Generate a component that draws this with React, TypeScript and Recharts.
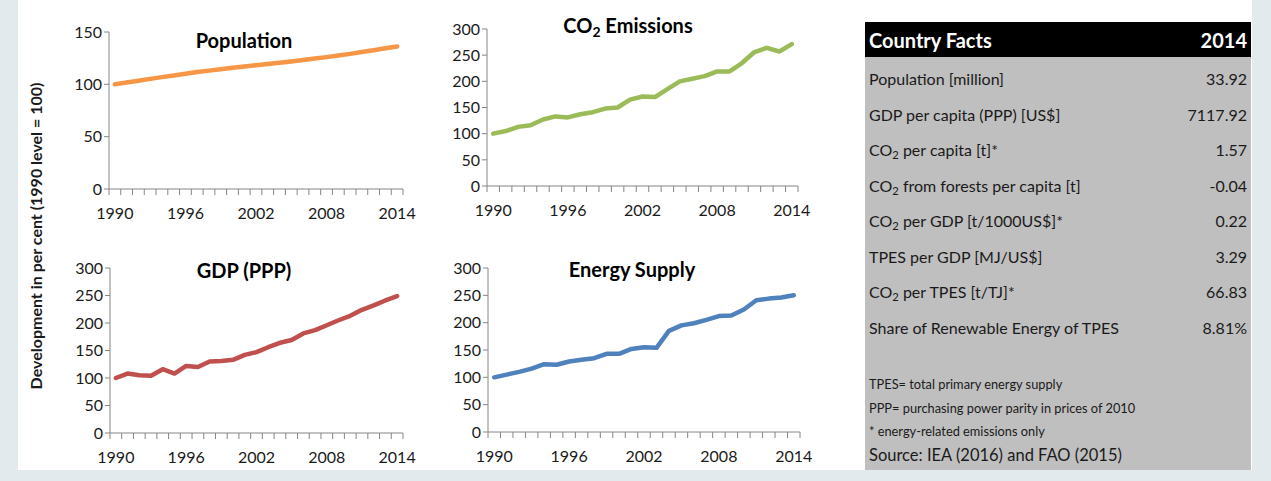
import React from 'react';
import { LineChart, Line, XAxis, YAxis } from 'recharts';

const years = [
  1990, 1991, 1992, 1993, 1994, 1995, 1996, 1997, 1998, 1999, 2000, 2001, 2002,
  2003, 2004, 2005, 2006, 2007, 2008, 2009, 2010, 2011, 2012, 2013, 2014,
];
const yearLabels = [1990, 1996, 2002, 2008, 2014];

const population = [
  100, 101.8, 103.5, 105.2, 106.9, 108.5, 110.1, 111.7, 113.1, 114.5, 115.8,
  117.0, 118.2, 119.4, 120.6, 121.9, 123.2, 124.6, 126.0, 127.5, 129.1, 130.8,
  132.6, 134.4, 136.2,
];
const co2Emissions = [
  100, 105, 113, 116, 127, 133, 131, 137, 141, 148, 150, 165, 171, 170, 185,
  200, 205, 210, 219, 219, 235, 256, 264, 257, 271,
];
const gdpPpp = [
  100, 108, 105, 104, 116, 108, 122, 120, 130, 131, 133, 142, 147, 156, 164,
  169, 181, 187, 196, 205, 213, 224, 232, 241, 249,
];
const energySupply = [
  100, 105, 110, 116, 124, 123, 129, 132, 135, 143, 143, 152, 155, 154, 185,
  195, 199, 205, 212, 213, 224, 241, 244, 246, 250,
];

const popTicks = [0, 50, 100, 150];
const bigTicks = [0, 50, 100, 150, 200, 250, 300];

const factLabels = [
  'Population [million]',
  'GDP per capita (PPP) [US$]',
  'CO2 per capita [t]*',
  'CO2 from forests per capita [t]',
  'CO2 per GDP [t/1000US$]*',
  'TPES per GDP [MJ/US$]',
  'CO2 per TPES [t/TJ]*',
  'Share of Renewable Energy of TPES',
];
const factValues = ['33.92', '7117.92', '1.57', '-0.04', '0.22', '3.29', '66.83', '8.81%'];
const notes = [
  'TPES= total primary energy supply',
  'PPP= purchasing power parity in prices of 2010',
  '* energy-related emissions only',
];
const source = 'Source: IEA (2016) and FAO (2015)';

const FONT = 'Lato, "Open Sans", sans-serif';
const AXIS = '#868686';
const TEXT = '#1a1a1a';

function withCO2(label: string) {
  const parts = label.split('CO2');
  return parts.map((p, i) => (
    <React.Fragment key={i}>
      {i > 0 && (
        <>
          CO<sub style={{ fontSize: '0.7em', verticalAlign: '-0.25em' }}>2</sub>
        </>
      )}
      {p}
    </React.Fragment>
  ));
}

function YearTick({ x, y, payload, index, bw }: any) {
  const axisY = y - 6;
  const left = x - bw / 2;
  return (
    <g>
      <line x1={left} x2={left} y1={axisY} y2={axisY + 6} stroke={AXIS} />
      {index === years.length - 1 && (
        <line x1={x + bw / 2} x2={x + bw / 2} y1={axisY} y2={axisY + 6} stroke={AXIS} />
      )}
      {yearLabels.includes(Number(payload.value)) && (
        <text x={x} y={axisY + 30} textAnchor='middle' fill={TEXT} fontSize={16} fontFamily={FONT}>
          {payload.value}
        </text>
      )}
    </g>
  );
}

interface Box {
  x0: number;
  x1: number;
  y0: number;
  y1: number;
}

function Panel({
  box,
  values,
  color,
  domain,
  ticks,
}: {
  box: Box;
  values: number[];
  color: string;
  domain: number[];
  ticks: number[];
}) {
  const YW = 45;
  const XH = 34;
  const left = box.x0 - YW - 4;
  const top = box.y0 - 12;
  const width = box.x1 - left + 16;
  const height = box.y1 - top + XH + 4;
  const bw = (box.x1 - box.x0) / years.length;
  const rows = years.map((year, i) => ({ year, v: values[i] }));

  return (
    <div style={{ position: 'absolute', left, top }}>
      <LineChart
        width={width}
        height={height}
        data={rows}
        margin={{ left: 4, top: 12, right: 16, bottom: 4 }}
      >
        <XAxis
          dataKey='year'
          scale='band'
          interval={0}
          height={XH}
          tickSize={6}
          tickMargin={0}
          tickLine={false}
          axisLine={{ stroke: AXIS }}
          tick={(p: any) => <YearTick {...p} bw={bw} />}
        />
        <YAxis
          type='number'
          width={YW}
          domain={domain}
          ticks={ticks}
          interval={0}
          tickSize={5}
          tickMargin={2}
          axisLine={{ stroke: AXIS }}
          tickLine={{ stroke: AXIS }}
          tick={{ fill: TEXT, fontSize: 16, fontFamily: FONT }}
        />
        <Line
          dataKey='v'
          stroke={color}
          strokeWidth={4.5}
          dot={false}
          type='linear'
          strokeLinejoin='round'
          strokeLinecap='round'
          isAnimationActive={false}
        />
      </LineChart>
    </div>
  );
}

function Title({ cx, cy, children }: { cx: number; cy: number; children: React.ReactNode }) {
  return (
    <div
      style={{
        position: 'absolute',
        left: cx - 100,
        top: cy - 13,
        width: 200,
        height: 26,
        lineHeight: '26px',
        textAlign: 'center',
        fontFamily: FONT,
        fontWeight: 700,
        fontSize: 20,
        color: '#000',
      }}
    >
      {children}
    </div>
  );
}

export default function App() {
  return (
    <div
      style={{
        position: 'absolute',
        left: 0,
        top: 0,
        width: 1271,
        height: 481,
        background: '#e3eaee',
        overflow: 'hidden',
        fontFamily: FONT,
      }}
    >
      <div style={{ position: 'absolute', left: 18, top: 0, width: 1234, height: 470, background: '#fff' }} />

      <div
        style={{
          position: 'absolute',
          left: 36 - 200,
          top: 236 - 10,
          width: 400,
          height: 20,
          lineHeight: '20px',
          textAlign: 'center',
          transform: 'rotate(-90deg)',
          fontWeight: 700,
          fontSize: 16,
          color: TEXT,
          whiteSpace: 'nowrap',
        }}
      >
        Development in per cent (1990 level = 100)
      </div>

      <Panel box={{ x0: 109, x1: 403, y0: 32, y1: 189 }} values={population} color='#f79646' domain={[0, 150]} ticks={popTicks} />
      <Panel box={{ x0: 487, x1: 798, y0: 29, y1: 186 }} values={co2Emissions} color='#9bbb59' domain={[0, 300]} ticks={bigTicks} />
      <Panel box={{ x0: 110, x1: 403, y0: 268, y1: 433 }} values={gdpPpp} color='#c0504d' domain={[0, 300]} ticks={bigTicks} />
      <Panel box={{ x0: 488, x1: 800, y0: 268, y1: 432 }} values={energySupply} color='#4f81bd' domain={[0, 300]} ticks={bigTicks} />

      <Title cx={244} cy={40}>Population</Title>
      <Title cx={628} cy={25}>
        {withCO2('CO2 Emissions')}
      </Title>
      <Title cx={244} cy={270}>GDP (PPP)</Title>
      <Title cx={632} cy={269}>Energy Supply</Title>

      <div
        style={{
          position: 'absolute',
          left: 865,
          top: 22,
          width: 386,
          height: 35,
          background: '#000',
          color: '#fff',
          fontWeight: 700,
          fontSize: 20,
          display: 'flex',
          justifyContent: 'space-between',
          alignItems: 'center',
          padding: '0 4px',
          boxSizing: 'border-box',
        }}
      >
        <span>Country Facts</span>
        <span>2014</span>
      </div>
      <div style={{ position: 'absolute', left: 865, top: 57, width: 386, height: 413, background: '#bfbfbf' }}>
        {factLabels.map((label, i) => (
          <div
            key={label}
            style={{
              position: 'absolute',
              left: 4,
              right: 4,
              top: 4 + i * 35.5,
              height: 36,
              lineHeight: '36px',
              display: 'flex',
              justifyContent: 'space-between',
              fontSize: 16,
              color: TEXT,
            }}
          >
            <span>{withCO2(label)}</span>
            <span>{factValues[i]}</span>
          </div>
        ))}
        {notes.map((n, i) => (
          <div
            key={n}
            style={{
              position: 'absolute',
              left: 4,
              top: 316 + i * 23.5,
              height: 22,
              lineHeight: '22px',
              fontSize: 12.8,
              color: TEXT,
            }}
          >
            {n}
          </div>
        ))}
        <div
          style={{
            position: 'absolute',
            left: 4,
            top: 386,
            height: 24,
            lineHeight: '24px',
            fontSize: 16.5,
            color: TEXT,
          }}
        >
          {source}
        </div>
      </div>
    </div>
  );
}
